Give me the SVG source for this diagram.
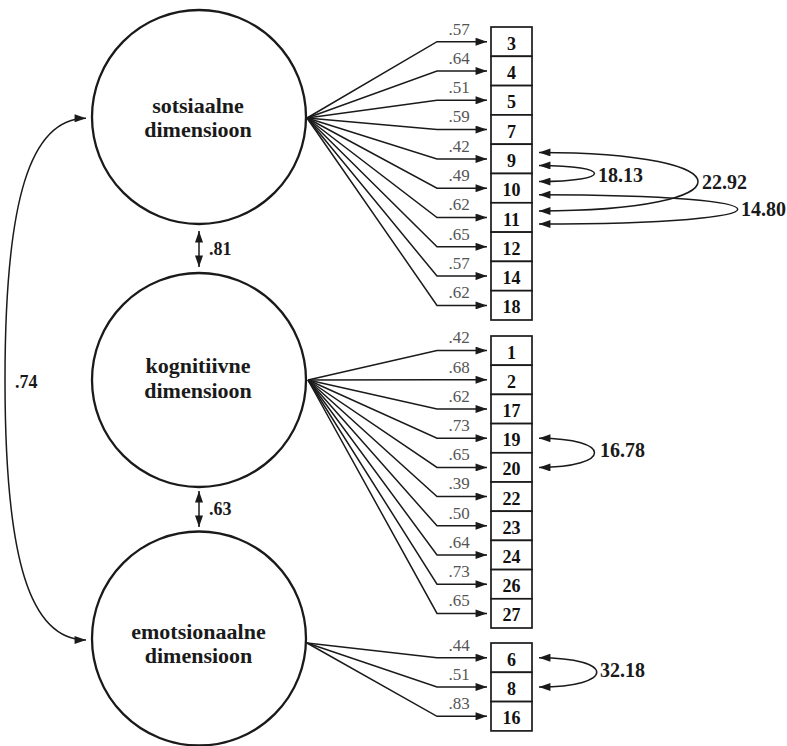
<svg xmlns="http://www.w3.org/2000/svg" width="787" height="746" viewBox="0 0 787 746">
  <style>
    .latent { fill: #fff; stroke: #1a1a1a; stroke-width: 2.3; }
    .item { fill: #fff; stroke: #1a1a1a; stroke-width: 1.7; }
    .ltxt { font-family: "Liberation Serif", "Times New Roman", serif; font-weight: bold; font-size: 22px; fill: #1a1a1a; text-anchor: middle; }
    .itxt { font-family: "Liberation Serif", "Times New Roman", serif; font-weight: bold; font-size: 18px; fill: #111; text-anchor: middle; }
    .load { font-family: "Liberation Serif", "Times New Roman", serif; font-size: 17px; fill: #555; text-anchor: middle; }
    .cov { font-family: "Liberation Serif", "Times New Roman", serif; font-weight: bold; font-size: 20px; fill: #1a1a1a; }
    .corr { font-family: "Liberation Serif", "Times New Roman", serif; font-weight: bold; font-size: 18px; fill: #1a1a1a; }
    .edge { fill: none; stroke: #1a1a1a; stroke-width: 1.5; }
    .arr { marker-end: url(#ah); }
    .both { marker-start: url(#ah); marker-end: url(#ah); }
  </style>
  <defs>
    <marker id="ah" viewBox="0 0 10 7" refX="10" refY="3.5" markerWidth="12" markerHeight="8" markerUnits="userSpaceOnUse" orient="auto-start-reverse">
      <path d="M0,0 L10,3.5 L0,7 z" fill="#1a1a1a"/>
    </marker>
  </defs>

  <!-- latent factors -->
  <g id="sotsiaalne">
    <circle class="latent" cx="199" cy="117" r="107"/>
    <text class="ltxt" x="198" y="113">sotsiaalne</text>
    <text class="ltxt" x="198" y="137">dimensioon</text>
  </g>
  <g id="kognitiivne">
    <circle class="latent" cx="199" cy="380" r="107"/>
    <text class="ltxt" x="198" y="373">kognitiivne</text>
    <text class="ltxt" x="198" y="398">dimensioon</text>
  </g>
  <g id="emotsionaalne">
    <circle class="latent" cx="199" cy="638.5" r="107"/>
    <text class="ltxt" x="198.5" y="639">emotsionaalne</text>
    <text class="ltxt" x="198.5" y="663">dimensioon</text>
  </g>

  <!-- observed items: social -->
  <g id="i3"><rect class="item" x="491" y="27" width="41" height="29.3"/><text class="itxt" x="511.5" y="49.7">3</text></g>
  <g id="i4"><rect class="item" x="491" y="56.3" width="41" height="29.3"/><text class="itxt" x="511.5" y="79">4</text></g>
  <g id="i5"><rect class="item" x="491" y="85.6" width="41" height="29.3"/><text class="itxt" x="511.5" y="108.3">5</text></g>
  <g id="i7"><rect class="item" x="491" y="114.9" width="41" height="29.3"/><text class="itxt" x="511.5" y="137.6">7</text></g>
  <g id="i9"><rect class="item" x="491" y="144.2" width="41" height="29.3"/><text class="itxt" x="511.5" y="166.9">9</text></g>
  <g id="i10"><rect class="item" x="491" y="173.5" width="41" height="29.3"/><text class="itxt" x="511.5" y="196.2">10</text></g>
  <g id="i11"><rect class="item" x="491" y="202.8" width="41" height="29.3"/><text class="itxt" x="511.5" y="225.5">11</text></g>
  <g id="i12"><rect class="item" x="491" y="232.1" width="41" height="29.3"/><text class="itxt" x="511.5" y="254.8">12</text></g>
  <g id="i14"><rect class="item" x="491" y="261.4" width="41" height="29.3"/><text class="itxt" x="511.5" y="284.1">14</text></g>
  <g id="i18"><rect class="item" x="491" y="290.7" width="41" height="29.3"/><text class="itxt" x="511.5" y="313.4">18</text></g>

  <!-- observed items: cognitive -->
  <g id="i1"><rect class="item" x="491" y="336" width="41" height="29.2"/><text class="itxt" x="511.5" y="358.6">1</text></g>
  <g id="i2"><rect class="item" x="491" y="365.2" width="41" height="29.2"/><text class="itxt" x="511.5" y="387.8">2</text></g>
  <g id="i17"><rect class="item" x="491" y="394.4" width="41" height="29.2"/><text class="itxt" x="511.5" y="417">17</text></g>
  <g id="i19"><rect class="item" x="491" y="423.6" width="41" height="29.2"/><text class="itxt" x="511.5" y="446.2">19</text></g>
  <g id="i20"><rect class="item" x="491" y="452.8" width="41" height="29.2"/><text class="itxt" x="511.5" y="475.4">20</text></g>
  <g id="i22"><rect class="item" x="491" y="482" width="41" height="29.2"/><text class="itxt" x="511.5" y="504.6">22</text></g>
  <g id="i23"><rect class="item" x="491" y="511.2" width="41" height="29.2"/><text class="itxt" x="511.5" y="533.8">23</text></g>
  <g id="i24"><rect class="item" x="491" y="540.4" width="41" height="29.2"/><text class="itxt" x="511.5" y="563">24</text></g>
  <g id="i26"><rect class="item" x="491" y="569.6" width="41" height="29.2"/><text class="itxt" x="511.5" y="592.2">26</text></g>
  <g id="i27"><rect class="item" x="491" y="598.8" width="41" height="29.2"/><text class="itxt" x="511.5" y="621.4">27</text></g>

  <!-- observed items: emotional -->
  <g id="i6"><rect class="item" x="491" y="643" width="41" height="29.3"/><text class="itxt" x="511.5" y="665.7">6</text></g>
  <g id="i8"><rect class="item" x="491" y="672.3" width="41" height="29.3"/><text class="itxt" x="511.5" y="695">8</text></g>
  <g id="i16"><rect class="item" x="491" y="701.6" width="41" height="29.3"/><text class="itxt" x="511.5" y="724.3">16</text></g>

  <g id="connectors">
    <!-- loadings: social -->
    <path class="edge arr" d="M307,118 L437,41.7 L487,41.7"/>
    <path class="edge arr" d="M307,118 L437,71 L487,71"/>
    <path class="edge arr" d="M307,118 L437,100.3 L487,100.3"/>
    <path class="edge arr" d="M307,118 L437,129.6 L487,129.6"/>
    <path class="edge arr" d="M307,118 L437,158.9 L487,158.9"/>
    <path class="edge arr" d="M307,118 L437,188.2 L487,188.2"/>
    <path class="edge arr" d="M307,118 L437,217.5 L487,217.5"/>
    <path class="edge arr" d="M307,118 L437,246.8 L487,246.8"/>
    <path class="edge arr" d="M307,118 L437,276.1 L487,276.1"/>
    <path class="edge arr" d="M307,118 L437,305.4 L487,305.4"/>

    <!-- loadings: cognitive -->
    <path class="edge arr" d="M308,380 L437,350.6 L487,350.6"/>
    <path class="edge arr" d="M308,380 L437,379.8 L487,379.8"/>
    <path class="edge arr" d="M308,380 L437,409 L487,409"/>
    <path class="edge arr" d="M308,380 L437,438.2 L487,438.2"/>
    <path class="edge arr" d="M308,380 L437,467.4 L487,467.4"/>
    <path class="edge arr" d="M308,380 L437,496.6 L487,496.6"/>
    <path class="edge arr" d="M308,380 L437,525.8 L487,525.8"/>
    <path class="edge arr" d="M308,380 L437,555 L487,555"/>
    <path class="edge arr" d="M308,380 L437,584.2 L487,584.2"/>
    <path class="edge arr" d="M308,380 L437,613.4 L487,613.4"/>

    <!-- loadings: emotional -->
    <path class="edge arr" d="M307,643 L437,657.7 L487,657.7"/>
    <path class="edge arr" d="M307,643 L437,687 L487,687"/>
    <path class="edge arr" d="M307,643 L437,716.3 L487,716.3"/>

    <!-- factor correlations -->
    <path class="edge both" d="M199,231 L199,267"/>
    <path class="edge both" d="M199,491 L199,527"/>
    <path class="edge both" d="M86,118.3 C30,118.3 5,200 5,380 C5,560 30,640 86,640"/>

    <!-- error covariances -->
    <path class="edge both" d="M539,165.4 C613,165.4 613,181.6 539,181.6"/>
    <path class="edge both" d="M539,152.4 C751,152.4 751,211 539,211"/>
    <path class="edge both" d="M539,194.7 C804,194.7 804,224 539,224"/>
    <path class="edge both" d="M539,438.2 C613,438.2 613,467.4 539,467.4"/>
    <path class="edge both" d="M539,657.7 C616,657.7 616,687 539,687"/>
  </g>

  <!-- loading values -->
  <g id="loading-labels">
    <text class="load" x="459" y="34.5">.57</text>
    <text class="load" x="459" y="63.8">.64</text>
    <text class="load" x="459" y="93.1">.51</text>
    <text class="load" x="459" y="122.4">.59</text>
    <text class="load" x="459" y="151.7">.42</text>
    <text class="load" x="459" y="181">.49</text>
    <text class="load" x="459" y="210.3">.62</text>
    <text class="load" x="459" y="239.6">.65</text>
    <text class="load" x="459" y="268.9">.57</text>
    <text class="load" x="459" y="298.2">.62</text>

    <text class="load" x="459" y="343.4">.42</text>
    <text class="load" x="459" y="372.6">.68</text>
    <text class="load" x="459" y="401.8">.62</text>
    <text class="load" x="459" y="431">.73</text>
    <text class="load" x="459" y="460.2">.65</text>
    <text class="load" x="459" y="489.4">.39</text>
    <text class="load" x="459" y="518.6">.50</text>
    <text class="load" x="459" y="547.8">.64</text>
    <text class="load" x="459" y="577">.73</text>
    <text class="load" x="459" y="606.2">.65</text>

    <text class="load" x="459" y="650.5">.44</text>
    <text class="load" x="459" y="679.8">.51</text>
    <text class="load" x="459" y="709.1">.83</text>
  </g>

  <!-- correlation and covariance values -->
  <g id="value-labels">
    <text class="corr" x="209" y="255">.81</text>
    <text class="corr" x="209" y="515">.63</text>
    <text class="corr" x="15" y="388">.74</text>
    <text class="cov" x="598" y="181.5">18.13</text>
    <text class="cov" x="702" y="188.5">22.92</text>
    <text class="cov" x="741" y="216">14.80</text>
    <text class="cov" x="600" y="457">16.78</text>
    <text class="cov" x="600" y="677">32.18</text>
  </g>
</svg>
